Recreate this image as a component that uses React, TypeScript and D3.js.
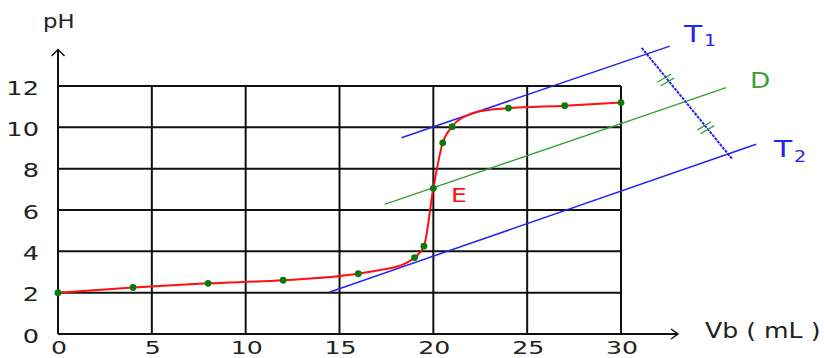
import React from "react";
import * as d3 from "d3";

// Titration data (volume of base in mL, pH)
const volumes = [0, 4, 8, 12, 16, 19, 19.5, 20, 20.5, 21, 24, 27, 30];
const phValues = [2.0, 2.25, 2.45, 2.6, 2.92, 3.7, 4.25, 7.05, 9.25, 10.03, 10.93, 11.05, 11.2];

// Extra points read on the red curve (bends between measured points)
const curveVolumes = [0, 4, 8, 12, 16, 17.3, 18.2, 19, 19.5, 20, 20.5, 21, 22.1, 23.2, 24, 27, 30];
const curvePh = [2.0, 2.25, 2.45, 2.6, 2.92, 3.12, 3.3, 3.7, 4.25, 7.05, 9.25, 10.03, 10.68, 10.87, 10.93, 11.05, 11.2];

const xTicks = [0, 5, 10, 15, 20, 25, 30];
const yTicks = [0, 2, 4, 6, 8, 10, 12];

// Construction lines (endpoints in data units)
const tangent1 = [[18.3, 9.5], [32.6, 13.93]];
const tangent2 = [[14.45, 2.02], [37.2, 9.18]];
const lineD = [[17.4, 6.27], [35.6, 11.92]];
const perpLine = [[31.1, 13.85], [35.92, 8.47]];
const equalMarks = [[32.39, 12.29], [34.52, 9.98]];

const W = 824;
const H = 358;

export default function App() {
  const x = d3.scaleLinear().domain([0, 30]).range([58, 621]);
  const y = d3.scaleLinear().domain([0, 12]).range([334, 86]);

  const curve = d3
    .line<number>()
    .x((_, i) => x(curveVolumes[i]))
    .y((_, i) => y(curvePh[i]))
    .curve(d3.curveMonotoneX)(curvePh);

  const seg = (pts: number[][]) => d3.line<number[]>().x((d) => x(d[0])).y((d) => y(d[1]))(pts) || "";

  const font = "'DejaVu Sans', Verdana, sans-serif";
  const blue = "#2424f2";
  const green = "#36a036";

  const txt = (
    s: string,
    px: number,
    py: number,
    size: number,
    color: string,
    anchor: "start" | "middle" | "end",
    sx = 1.3
  ) => (
    <text
      transform={`translate(${px},${py}) scale(${sx},1)`}
      fontSize={size}
      fill={color}
      textAnchor={anchor}
      fontFamily={font}
    >
      {s}
    </text>
  );

  const p0 = [x(perpLine[0][0]), y(perpLine[0][1])];
  const p1 = [x(perpLine[1][0]), y(perpLine[1][1])];
  const len = Math.hypot(p1[0] - p0[0], p1[1] - p0[1]);
  const ux = (p1[0] - p0[0]) / len;
  const uy = (p1[1] - p0[1]) / len;
  const mdx = 15 / Math.hypot(15, 9);
  const mdy = -9 / Math.hypot(15, 9);

  return (
    <svg
      width={W}
      height={H}
      style={{ position: "absolute", left: 0, top: 0, background: "#fff" }}
    >
      {/* grid */}
      {yTicks.slice(1).map((t) => (
        <line key={"h" + t} x1={x(0)} x2={x(30)} y1={y(t)} y2={y(t)} stroke="#111" strokeWidth={2} />
      ))}
      {xTicks.slice(1).map((t) => (
        <line key={"v" + t} x1={x(t)} x2={x(t)} y1={y(0)} y2={y(12)} stroke="#111" strokeWidth={2} />
      ))}
      {/* axes */}
      <line x1={x(0)} x2={x(0)} y1={y(0)} y2={49} stroke="#111" strokeWidth={2} />
      <line x1={x(0)} x2={678} y1={y(0)} y2={y(0)} stroke="#111" strokeWidth={2} />
      <path d={`M${x(0) - 6.5},56 L${x(0)},49.5 L${x(0) + 6.5},56`} fill="none" stroke="#111" strokeWidth={1.5} />
      <path d={`M671,${y(0) - 5} L678,${y(0)} L671,${y(0) + 5}`} fill="none" stroke="#111" strokeWidth={1.5} />

      {/* tick labels */}
      {yTicks.map((t) => (
        <g key={"yl" + t}>{txt(String(t), 39, y(t) + 8.5, 19, "#222", "end", 1.35)}</g>
      ))}
      {xTicks.map((t) => (
        <g key={"xl" + t}>{txt(String(t), x(t) + 1, 353.5, 18, "#222", "middle", 1.4)}</g>
      ))}
      {txt("pH", 43, 27.5, 19, "#222", "start", 1.2)}
      {txt("Vb ( mL )", 705, 338, 21, "#222", "start", 1.2)}

      {/* construction lines */}
      <path d={seg(tangent1)} stroke={blue} strokeWidth={1.5} fill="none" />
      <path d={seg(tangent2)} stroke={blue} strokeWidth={1.5} fill="none" />
      <path d={seg(lineD)} stroke={green} strokeWidth={1.3} fill="none" />
      <path d={seg(perpLine)} stroke={blue} strokeWidth={2} strokeDasharray="3 1" fill="none" />
      {equalMarks.map((m, i) => {
        const cx = x(m[0]);
        const cy = y(m[1]);
        return (
          <g key={"em" + i}>
            {[-2.5, 2.5].map((o) => (
              <line
                key={o}
                x1={cx + ux * o - mdx * 8}
                y1={cy + uy * o - mdy * 8}
                x2={cx + ux * o + mdx * 8}
                y2={cy + uy * o + mdy * 8}
                stroke={green}
                strokeWidth={1.3}
              />
            ))}
          </g>
        );
      })}

      {/* titration curve */}
      <path d={curve || ""} fill="none" stroke="#ff1010" strokeWidth={2} />
      {phValues.map((p, i) => (
        <circle key={"pt" + i} cx={x(volumes[i])} cy={y(p)} r={3.4} fill="#0a7a0a" />
      ))}

      {/* labels */}
      {txt("T", 684, 41.7, 23, blue, "start", 1.3)}
      {txt("1", 704, 45.5, 16, blue, "start", 1.2)}
      {txt("D", 750, 88.3, 21, green, "start", 1.25)}
      {txt("T", 774, 156.7, 23, blue, "start", 1.3)}
      {txt("2", 794, 161.7, 16, blue, "start", 1.2)}
      {txt("E", 451, 201.7, 20, "#ff1010", "start", 1.25)}
    </svg>
  );
}
